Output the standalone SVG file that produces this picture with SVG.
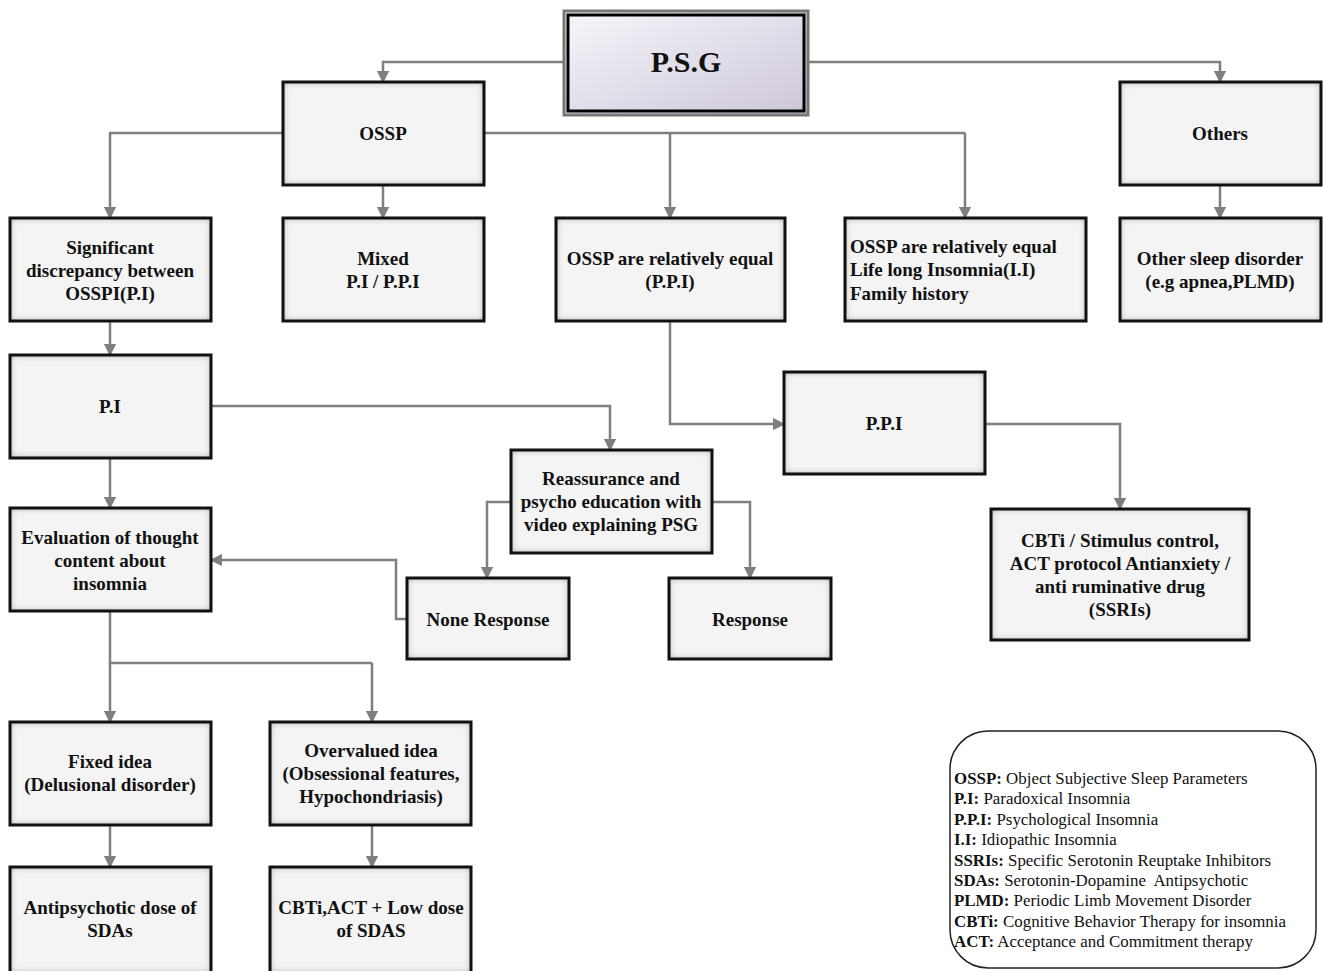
<svg xmlns="http://www.w3.org/2000/svg" width="1324" height="971" viewBox="0 0 1324 971">
<style>
.box{fill:#f4f4f4;filter:url(#inset)}
.bd{fill:none;stroke:#111;stroke-width:3}
.t{font-family:"Liberation Serif","Times New Roman",serif;font-weight:bold;font-size:19px;fill:#111;text-anchor:middle}
.tl{text-anchor:start}
.c path{fill:none;stroke:#7f7f7f;stroke-width:2.5}
.ar{marker-end:url(#ah)}
.lg{font-family:"Liberation Serif","Times New Roman",serif;font-size:16.9px;fill:#111}
.lg tspan.b{font-weight:bold}
</style>
<defs>
<filter id="inset" x="-5%" y="-5%" width="110%" height="110%">
<feFlood flood-color="#000" flood-opacity="0.75" result="f"/>
<feComposite in="f" in2="SourceAlpha" operator="out" result="o"/>
<feGaussianBlur in="o" stdDeviation="3.5" result="b"/>
<feComposite in="b" in2="SourceAlpha" operator="in" result="s"/>
<feMerge><feMergeNode in="SourceGraphic"/><feMergeNode in="s"/></feMerge>
</filter>
<linearGradient id="lav" x1="0" y1="0" x2="1" y2="1">
<stop offset="0" stop-color="#f8f6fb"/>
<stop offset="1" stop-color="#cdc6d9"/>
</linearGradient>
<marker id="ah" viewBox="0 0 10 10" refX="9" refY="5" markerWidth="5" markerHeight="5" orient="auto" markerUnits="strokeWidth">
<path d="M0,0 L10,5 L0,10 z" fill="#7f7f7f"/>
</marker>
</defs>
<rect width="1324" height="971" fill="#fff"/>

<g id="connectors" class="c">
<path class="ar" d="M564,62 H383 V82"/>
<path class="ar" d="M808,62 H1220 V82"/>
<path class="ar" d="M283,133 H110 V218"/>
<path class="ar" d="M383,185 V218"/>
<path d="M484,133 H965"/>
<path class="ar" d="M670,133 V218"/>
<path class="ar" d="M965,133 V218"/>
<path class="ar" d="M1220,185 V218"/>
<path class="ar" d="M110,321 V355"/>
<path class="ar" d="M670,321 V424 H784"/>
<path class="ar" d="M985,424 H1120 V509"/>
<path class="ar" d="M211,406 H610 V450"/>
<path class="ar" d="M110,458 V508"/>
<path class="ar" d="M511,502 H487 V578"/>
<path class="ar" d="M712,502 H750 V578"/>
<path class="ar" d="M407,619 H396 V560 H211"/>
<path d="M110,611 V663 H372"/>
<path class="ar" d="M110,663 V722"/>
<path class="ar" d="M372,663 V722"/>
<path class="ar" d="M110,825 V867"/>
<path class="ar" d="M372,825 V867"/>
</g>

<g id="psg">
<rect x="564" y="11" width="244" height="104" fill="url(#lav)" stroke="#777" stroke-width="3"/>
<rect x="568" y="15" width="236" height="96" fill="none" stroke="#000" stroke-width="3"/>
<text class="t" x="686" y="72" style="font-size:30px">P.S.G</text>
</g>

<g id="ossp">
<rect class="box" x="283" y="82" width="201" height="103"/><rect class="bd" x="283" y="82" width="201" height="103"/>
<text class="t" x="383" y="140">OSSP</text>
</g>

<g id="others">
<rect class="box" x="1120" y="82" width="201" height="103"/><rect class="bd" x="1120" y="82" width="201" height="103"/>
<text class="t" x="1220" y="140">Others</text>
</g>

<g id="significant">
<rect class="box" x="10" y="218" width="201" height="103"/><rect class="bd" x="10" y="218" width="201" height="103"/>
<text class="t" x="110" y="254">Significant</text>
<text class="t" x="110" y="277">discrepancy between</text>
<text class="t" x="110" y="300">OSSPI(P.I)</text>
</g>

<g id="mixed">
<rect class="box" x="283" y="218" width="201" height="103"/><rect class="bd" x="283" y="218" width="201" height="103"/>
<text class="t" x="383" y="265">Mixed</text>
<text class="t" x="383" y="288">P.I / P.P.I</text>
</g>

<g id="equal-ppi">
<rect class="box" x="556" y="218" width="229" height="103"/><rect class="bd" x="556" y="218" width="229" height="103"/>
<text class="t" x="670" y="265">OSSP are relatively equal</text>
<text class="t" x="670" y="288">(P.P.I)</text>
</g>

<g id="equal-ii">
<rect class="box" x="845" y="218" width="241" height="103"/><rect class="bd" x="845" y="218" width="241" height="103"/>
<text class="t tl" x="850" y="253">OSSP are relatively equal</text>
<text class="t tl" x="850" y="276">Life long Insomnia(I.I)</text>
<text class="t tl" x="850" y="300">Family history</text>
</g>

<g id="other-sleep">
<rect class="box" x="1120" y="218" width="201" height="103"/><rect class="bd" x="1120" y="218" width="201" height="103"/>
<text class="t" x="1220" y="265">Other sleep disorder</text>
<text class="t" x="1220" y="288">(e.g apnea,PLMD)</text>
</g>

<g id="pi">
<rect class="box" x="10" y="355" width="201" height="103"/><rect class="bd" x="10" y="355" width="201" height="103"/>
<text class="t" x="110" y="413">P.I</text>
</g>

<g id="ppi">
<rect class="box" x="784" y="372" width="201" height="102"/><rect class="bd" x="784" y="372" width="201" height="102"/>
<text class="t" x="884" y="430">P.P.I</text>
</g>

<g id="reassurance">
<rect class="box" x="511" y="450" width="201" height="103"/><rect class="bd" x="511" y="450" width="201" height="103"/>
<text class="t" x="611" y="485">Reassurance and</text>
<text class="t" x="611" y="508">psycho education with</text>
<text class="t" x="611" y="531">video explaining PSG</text>
</g>

<g id="evaluation">
<rect class="box" x="10" y="508" width="201" height="103"/><rect class="bd" x="10" y="508" width="201" height="103"/>
<text class="t" x="110" y="544">Evaluation of thought</text>
<text class="t" x="110" y="567">content about</text>
<text class="t" x="110" y="590">insomnia</text>
</g>

<g id="none-response">
<rect class="box" x="407" y="578" width="162" height="81"/><rect class="bd" x="407" y="578" width="162" height="81"/>
<text class="t" x="488" y="626">None Response</text>
</g>

<g id="response">
<rect class="box" x="669" y="578" width="162" height="81"/><rect class="bd" x="669" y="578" width="162" height="81"/>
<text class="t" x="750" y="626">Response</text>
</g>

<g id="cbti-stimulus">
<rect class="box" x="991" y="509" width="258" height="131"/><rect class="bd" x="991" y="509" width="258" height="131"/>
<text class="t" x="1120" y="547">CBTi / Stimulus control,</text>
<text class="t" x="1120" y="570">ACT protocol Antianxiety /</text>
<text class="t" x="1120" y="593">anti ruminative drug</text>
<text class="t" x="1120" y="616">(SSRIs)</text>
</g>

<g id="fixed">
<rect class="box" x="10" y="722" width="201" height="103"/><rect class="bd" x="10" y="722" width="201" height="103"/>
<text class="t" x="110" y="768">Fixed idea</text>
<text class="t" x="110" y="791">(Delusional disorder)</text>
</g>

<g id="overvalued">
<rect class="box" x="270" y="722" width="201" height="103"/><rect class="bd" x="270" y="722" width="201" height="103"/>
<text class="t" x="371" y="757">Overvalued idea</text>
<text class="t" x="371" y="780">(Obsessional features,</text>
<text class="t" x="371" y="803">Hypochondriasis)</text>
</g>

<g id="antipsychotic">
<rect class="box" x="10" y="867" width="201" height="106"/><rect class="bd" x="10" y="867" width="201" height="106"/>
<text class="t" x="110" y="914">Antipsychotic dose of</text>
<text class="t" x="110" y="937">SDAs</text>
</g>

<g id="cbti-act">
<rect class="box" x="270" y="867" width="201" height="106"/><rect class="bd" x="270" y="867" width="201" height="106"/>
<text class="t" x="371" y="914">CBTi,ACT + Low dose</text>
<text class="t" x="371" y="937">of SDAS</text>
</g>

<g id="legend">
<rect x="950" y="731" width="366" height="237" rx="38" ry="38" fill="#fff" stroke="#222" stroke-width="1.5"/>
<text class="lg" x="954" y="784"><tspan class="b">OSSP:</tspan> Object Subjective Sleep Parameters</text>
<text class="lg" x="954" y="804"><tspan class="b">P.I:</tspan> Paradoxical Insomnia</text>
<text class="lg" x="954" y="825"><tspan class="b">P.P.I:</tspan> Psychological Insomnia</text>
<text class="lg" x="954" y="845"><tspan class="b">I.I:</tspan> Idiopathic Insomnia</text>
<text class="lg" x="954" y="866"><tspan class="b">SSRIs:</tspan> Specific Serotonin Reuptake Inhibitors</text>
<text class="lg" x="954" y="886"><tspan class="b">SDAs:</tspan> Serotonin-Dopamine&#160; Antipsychotic</text>
<text class="lg" x="954" y="906"><tspan class="b">PLMD:</tspan> Periodic Limb Movement Disorder</text>
<text class="lg" x="954" y="927"><tspan class="b">CBTi:</tspan> Cognitive Behavior Therapy for insomnia</text>
<text class="lg" x="954" y="947"><tspan class="b">ACT:</tspan> Acceptance and Commitment therapy</text>
</g>
</svg>
